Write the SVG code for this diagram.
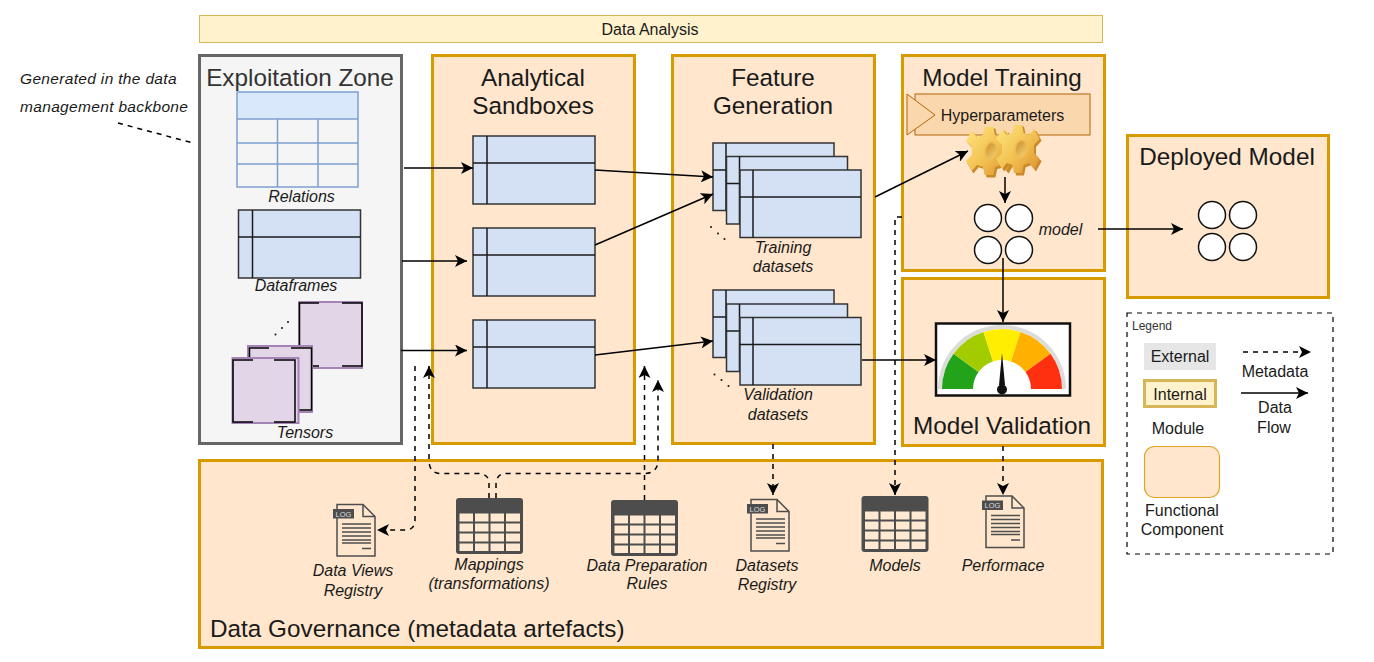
<svg xmlns="http://www.w3.org/2000/svg" xmlns:xlink="http://www.w3.org/1999/xlink" width="1374" height="662" viewBox="0 0 1374 662">
<style>
text{font-family:"Liberation Sans",Arial,sans-serif;fill:#1a1a1a}
.t{font-size:24.300px;text-anchor:middle}
.i{font-size:16px;font-style:italic;text-anchor:middle}
.l{font-size:16px;text-anchor:middle}
.box{fill:#ffe6cc;stroke:#d79b00;stroke-width:3}
.df{fill:#d4e1f5;stroke:#333;stroke-width:1.5}
.dfl{fill:none;stroke:#1a1a1a;stroke-width:1.5}
.ball{fill:#fff;stroke:#111;stroke-width:1.5}
.solid{fill:none;stroke:#000;stroke-width:1.5;marker-end:url(#a)}
.dash{fill:none;stroke:#000;stroke-width:1.5;stroke-dasharray:5 5;marker-end:url(#a)}
.dashn{fill:none;stroke:#000;stroke-width:1.5;stroke-dasharray:5 5}
.dot{fill:#111}
.rel{fill:none;stroke:#7e9fcf;stroke-width:1.5}
.ten{fill:#e1d5e7;stroke:#a583b5;stroke-width:2}
.tenb{fill:none;stroke:#000;stroke-width:1.5}
</style>
<defs>
<marker id="a" markerUnits="userSpaceOnUse" markerWidth="14" markerHeight="12" refX="12" refY="6" orient="auto"><path d="M0 0L12 6L0 12L3 6Z" fill="#000"/></marker>
<linearGradient id="g" x1="0" y1="0" x2="1" y2="1"><stop offset="0" stop-color="#ffe680"/><stop offset=".55" stop-color="#f2c050"/><stop offset="1" stop-color="#d98f2e"/></linearGradient>
<linearGradient id="h" x1="0" y1="0" x2="1" y2="1"><stop offset="0" stop-color="#c98a2a"/><stop offset="1" stop-color="#f7d774"/></linearGradient>
<g id="df"><rect class="df" width="122" height="68"/><path class="dfl" d="M14 0V68M0 27H122"/></g>
<g id="fs"><rect class="df" width="121" height="67.500"/><path class="dfl" d="M13 0V67.500M0 27H121"/></g>
<g id="balls"><circle class="ball" cx="0" cy="0" r="13.500"/><circle class="ball" cx="31" cy="0" r="13.500"/><circle class="ball" cx="0" cy="32" r="13.500"/><circle class="ball" cx="31" cy="32" r="13.500"/></g>
<g id="tbl"><rect width="67" height="56" rx="3" fill="#4d4d4d"/><g fill="#ffe9d2"><rect x="3.500" y="15.500" width="13.500" height="8"/><rect x="19" y="15.500" width="13.500" height="8"/><rect x="34.500" y="15.500" width="13.500" height="8"/><rect x="50" y="15.500" width="14" height="8"/><rect x="3.500" y="25.500" width="13.500" height="8"/><rect x="19" y="25.500" width="13.500" height="8"/><rect x="34.500" y="25.500" width="13.500" height="8"/><rect x="50" y="25.500" width="14" height="8"/><rect x="3.500" y="35.500" width="13.500" height="8"/><rect x="19" y="35.500" width="13.500" height="8"/><rect x="34.500" y="35.500" width="13.500" height="8"/><rect x="50" y="35.500" width="14" height="8"/><rect x="3.500" y="45.500" width="13.500" height="7.500"/><rect x="19" y="45.500" width="13.500" height="7.500"/><rect x="34.500" y="45.500" width="13.500" height="7.500"/><rect x="50" y="45.500" width="14" height="7.500"/></g></g>
<g id="doc"><path d="M0 0H26L38 12V51.500H0Z" fill="none" stroke="#4d4d4d" stroke-width="1.500"/><path d="M26 0V12H38" fill="none" stroke="#4d4d4d" stroke-width="1.500"/><rect x="-4" y="4.500" width="21" height="9.500" fill="#4d4d4d"/><text x="6.500" y="12" style="font-size:7.500px;fill:#ddd;text-anchor:middle">LOG</text><path d="M5 19.500H34M5 23.500H34M5 27.500H34M5 31.500H34M5 35.500H34M5 38.500H34M25 44H34" stroke="#4d4d4d" stroke-width="1.500" fill="none"/></g>
<path id="gear" d="M-5-24L5-24L7-16L14-14L20-20L27-10L20-4L20 4L27 10L20 20L14 14L7 16L5 24L-5 24L-7 16L-14 14L-20 20L-27 10L-20 4L-20-4L-27-10L-20-20L-14-14L-7-16Z"/>
</defs>

<g id="data-analysis"><rect x="199.500" y="15.500" width="903" height="27" fill="#fff2cc" stroke="#d6b656"/><text class="l" x="650" y="34.500">Data Analysis</text></g>

<g id="exploitation-zone">
<rect x="199.500" y="55.500" width="202" height="388" fill="#f5f5f5" stroke="#666" stroke-width="3"/>
<text class="t" x="300" y="86" style="fill:#333">Exploitation Zone</text>
<g id="relations"><rect x="237" y="92" width="121" height="27" fill="#dae8fc"/><rect class="rel" x="237" y="92" width="121" height="95"/><path class="rel" d="M237 119H358M237 143H358M237 164H358M277.500 119V187M318 119V187"/><text class="i" x="301.500" y="202">Relations</text></g>
<g id="dataframes"><use href="#df" x="238.500" y="210"/><text class="i" x="296" y="291">Dataframes</text></g>
<g id="tensors">
<circle class="dot" cx="275.500" cy="334.500" r="1"/><circle class="dot" cx="282" cy="328" r="1"/><circle class="dot" cx="288" cy="322" r="1"/>
<rect class="ten" x="299" y="302" width="63" height="66"/><path class="tenb" d="M319 303H299.500V366H319M342 303H362V366H342"/>
<rect class="ten" x="248" y="346" width="64" height="66"/><path class="tenb" d="M269 348H249.500V410H269M291 348H311.500V410H291"/>
<rect class="ten" x="232.500" y="358" width="66" height="65"/><path class="tenb" d="M253 360H233V422H253M274 360H295V422H274"/>
<text class="i" x="305" y="438">Tensors</text></g>
</g>

<g id="annotation"><text class="i" x="20" y="84" style="text-anchor:start;font-size:15.500px;letter-spacing:.33px">Generated in the data</text><text class="i" x="20" y="112" style="text-anchor:start;font-size:15.500px;letter-spacing:.33px">management backbone</text></g>

<g id="analytical-sandboxes">
<rect class="box" x="432.500" y="55.500" width="202" height="388"/>
<text class="t" x="533" y="86">Analytical</text><text class="t" x="533" y="114">Sandboxes</text>
<use href="#df" x="473" y="136"/><use href="#df" x="473" y="228"/><use href="#df" x="473" y="320"/>
</g>

<g id="feature-generation">
<rect class="box" x="672.500" y="55.500" width="202" height="388"/>
<text class="t" x="773" y="86">Feature</text><text class="t" x="773" y="114">Generation</text>
<use href="#fs" x="713" y="143"/><use href="#fs" x="726.500" y="156.500"/><use href="#fs" x="740" y="170"/>
<use href="#fs" x="713" y="290"/><use href="#fs" x="726.500" y="304"/><use href="#fs" x="740" y="317.500"/>
<circle class="dot" cx="711" cy="227" r="1"/><circle class="dot" cx="718" cy="233.500" r="1"/><circle class="dot" cx="724.500" cy="239" r="1"/>
<circle class="dot" cx="714.500" cy="374.500" r="1"/><circle class="dot" cx="721.500" cy="380" r="1"/><circle class="dot" cx="728.500" cy="386" r="1"/>
<text class="i" x="783" y="253">Training</text><text class="i" x="783" y="272">datasets</text>
<text class="i" x="778" y="400">Validation</text><text class="i" x="778" y="420">datasets</text>
</g>

<g id="model-training">
<rect class="box" x="902.500" y="55.500" width="202" height="215"/>
<text class="t" x="1002" y="86">Model Training</text>
<g id="hyperparameters"><rect x="915" y="94" width="175" height="41" fill="#fad7ac" stroke="#b46504"/><path d="M907 94L935 115L907 135Z" fill="#fad7ac" stroke="#b46504"/><text class="l" x="1002.500" y="121">Hyperparameters</text></g>
<g id="gears">
<use href="#gear" transform="translate(991 153) scale(.88 1.02)" fill="#c98a2a"/><use href="#gear" transform="translate(989 151) scale(.86 1)" fill="url(#g)"/><ellipse cx="991" cy="151" rx="6" ry="9" transform="rotate(12 991 151)" fill="url(#h)" stroke="#f0bd50" stroke-width="2"/>
<use href="#gear" transform="translate(1020 151) scale(.8 1.02)" fill="#c98a2a"/><use href="#gear" transform="translate(1018 149) scale(.8 1)" fill="url(#g)"/><ellipse cx="1021" cy="149" rx="6" ry="9" transform="rotate(12 1021 149)" fill="url(#h)" stroke="#f0bd50" stroke-width="2"/>
</g>
<use href="#balls" x="988" y="218"/>
<text class="i" x="1060.500" y="235">model</text>
</g>

<g id="model-validation">
<rect class="box" x="902.500" y="278.500" width="202" height="167"/>
<g id="gauge"><rect x="936" y="323.500" width="134" height="72" fill="#fff" stroke="#111" stroke-width="2.500"/>
<path d="M938 389A64 64 0 0 1 1066 389H1062A60 60 0 0 0 942 389Z" fill="#dcdcdc"/>
<path d="M942 389A60 60 0 0 1 953.500 353.700L978.500 372A29 29 0 0 0 973 389Z" fill="#22a319"/>
<path d="M953.500 353.700A60 60 0 0 1 983.500 332L993 361.400A29 29 0 0 0 978.500 372Z" fill="#a3cc00"/>
<path d="M983.500 332A60 60 0 0 1 1020.500 332L1011 361.400A29 29 0 0 0 993 361.400Z" fill="#ffee00"/>
<path d="M1020.500 332A60 60 0 0 1 1050.500 353.700L1025.500 372A29 29 0 0 0 1011 361.400Z" fill="#ffb000"/>
<path d="M1050.500 353.700A60 60 0 0 1 1062 389H1031A29 29 0 0 0 1025.500 372Z" fill="#ff3010"/>
<path d="M1002 353L1005 385H999Z" fill="#111"/><circle cx="1002" cy="389.500" r="5" fill="#111"/></g>
<text class="t" x="1002" y="434">Model Validation</text>
</g>

<g id="deployed-model">
<rect class="box" x="1127.500" y="135.500" width="201" height="162"/>
<text class="t" x="1227" y="165">Deployed Model</text>
<use href="#balls" x="1212" y="215"/>
</g>

<g id="data-governance">
<rect class="box" x="199.500" y="460.500" width="903" height="187"/>
<text class="t" x="210" y="637" style="text-anchor:start">Data Governance (metadata artefacts)</text>
<g id="data-views-registry"><use href="#doc" x="337" y="504.500"/><text class="i" x="353" y="576">Data Views</text><text class="i" x="353" y="596">Registry</text></g>
<g id="mappings"><use href="#tbl" x="456" y="498"/><text class="i" x="489" y="570">Mappings</text><text class="i" x="489" y="589">(transformations)</text></g>
<g id="data-preparation-rules"><use href="#tbl" x="611" y="500"/><text class="i" x="647" y="571">Data Preparation</text><text class="i" x="647" y="589">Rules</text></g>
<g id="datasets-registry"><use href="#doc" x="751" y="499.500"/><text class="i" x="767" y="571">Datasets</text><text class="i" x="767" y="590">Registry</text></g>
<g id="models"><use href="#tbl" x="861.500" y="496"/><text class="i" x="895" y="571">Models</text></g>
<g id="performace"><use href="#doc" x="986" y="496"/><text class="i" x="1003" y="571">Performace</text></g>
</g>

<g id="legend">
<rect x="1127" y="313" width="206" height="241" fill="#fff" stroke="#000" stroke-dasharray="5 5" stroke-width="1.200"/>
<text x="1132" y="330" style="font-size:12px;fill:#333">Legend</text>
<rect x="1144" y="343" width="72" height="27" fill="#e6e6e6"/><text class="l" x="1180" y="362">External</text>
<rect x="1144.500" y="380.500" width="71" height="26" fill="#fff2cc" stroke="#d6b656" stroke-width="3"/><text class="l" x="1180" y="400">Internal</text>
<text class="l" x="1178" y="434">Module</text>
<rect x="1144.500" y="446.500" width="75" height="51" rx="10" fill="#ffe6cc" stroke="#e0a526" stroke-width="1.200"/>
<text class="l" x="1182" y="516">Functional</text><text class="l" x="1182" y="535">Component</text>
<path class="dash" d="M1243 352H1311"/><text class="l" x="1275" y="377">Metadata</text>
<path class="solid" d="M1241 393H1308"/><text class="l" x="1275" y="413">Data</text><text class="l" x="1274" y="433">Flow</text>
</g>

<g id="connectors">
<path class="dashn" d="M118 123L193 143"/>
<path class="solid" d="M404 168H473"/>
<path class="solid" d="M402 261H467"/>
<path class="solid" d="M401 350.500H467"/>
<path class="solid" d="M595 170L713 177"/>
<path class="solid" d="M595 245L713 194"/>
<path class="solid" d="M595 355L713 341"/>
<path class="solid" d="M862 360H936"/>
<path class="solid" d="M875 197L968 151"/>
<path class="solid" d="M1005 177V203"/>
<path class="solid" d="M1003 258V322"/>
<path class="solid" d="M1098 229H1183"/>
<path class="dash" d="M415 366V520Q415 530 405 530H377"/>
<path class="dash" d="M489 498V483Q489 474 478 473.500H440Q429 473 429 460V366"/>
<path class="dash" d="M496 498V485Q496 473 507 473.500H645Q658 473 658 460V380"/>
<path class="dash" d="M644.500 500V366"/>
<path class="dash" d="M773 444V495"/>
<path class="dash" d="M902 217H895V495"/>
<path class="dash" d="M1003 446V495"/>
</g>
</svg>
